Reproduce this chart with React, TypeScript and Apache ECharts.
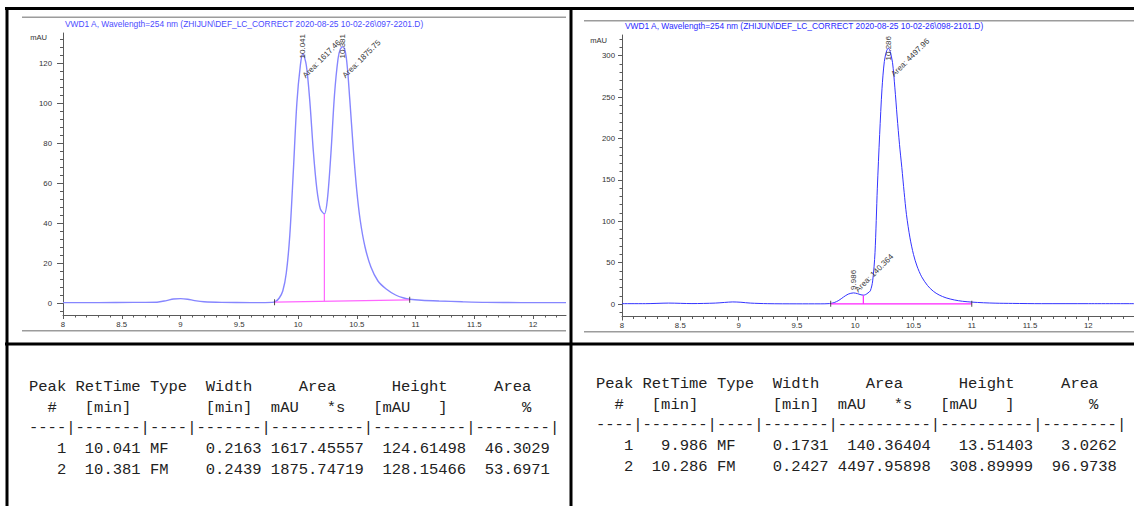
import React, { useEffect, useRef } from "react";
import * as echarts from "echarts";

const FONT = "'Liberation Sans', Arial, sans-serif";
const MONO = "'Liberation Mono', 'Courier New', monospace";

// ---------------- left run (097-2201) ----------------
const leftTitle = "VWD1 A, Wavelength=254 nm (ZHIJUN\\DEF_LC_CORRECT 2020-08-25 10-02-26\\097-2201.D)";
const leftTimes = [8.0, 8.3, 8.6, 8.8, 8.88, 8.94, 9.0, 9.06, 9.12, 9.2, 9.35, 9.6, 9.78, 9.81, 9.84, 9.87, 9.9, 9.93, 9.96, 9.99, 10.02, 10.041, 10.07, 10.1, 10.13, 10.16, 10.19, 10.224, 10.25, 10.28, 10.31, 10.34, 10.36, 10.381, 10.41, 10.44, 10.47, 10.5, 10.53, 10.57, 10.62, 10.68, 10.75, 10.83, 10.9, 10.95, 11.05, 11.2, 11.4, 11.6, 11.9, 12.28];
const leftSignal = [0.2, 0.2, 0.3, 0.4, 1.2, 2.0, 2.2, 1.9, 1.2, 0.6, 0.3, 0.2, 0.3, 0.8, 2.5, 6, 15, 34, 66, 100, 119, 124.6, 119, 101, 76, 57, 47, 44.5, 52, 75, 104, 122, 127, 128.2, 123, 102, 77, 56, 41, 28, 18, 11, 7, 4, 2.5, 1.9, 1.4, 1.0, 0.6, 0.3, 0.2, 0.2];
const leftBaseline = [[9.8, 0.4], [10.95, 1.6]];
const leftDrop = [[10.224, 1.0], [10.224, 44.5]];
const leftPeakNo = [1, 2];
const leftRetTime = [10.041, 10.381];
const leftType = ["MF", "FM"];
const leftWidth = [0.2163, 0.2439];
const leftArea = [1617.45557, 1875.74719];
const leftHeight = [124.61498, 128.15466];
const leftAreaPct = [46.3029, 53.6971];
const leftYMajor = [0, 20, 40, 60, 80, 100, 120];

// ---------------- right run (098-2101) ----------------
const rightTitle = "VWD1 A, Wavelength=254 nm (ZHIJUN\\DEF_LC_CORRECT 2020-08-25 10-02-26\\098-2101.D)";
const rightTimes = [8.0, 8.2, 8.4, 8.6, 8.8, 8.88, 8.95, 9.02, 9.1, 9.25, 9.5, 9.7, 9.78, 9.82, 9.86, 9.9, 9.94, 9.986, 10.02, 10.05, 10.07, 10.09, 10.11, 10.13, 10.15, 10.17, 10.19, 10.21, 10.23, 10.25, 10.27, 10.286, 10.3, 10.32, 10.34, 10.36, 10.38, 10.4, 10.42, 10.44, 10.47, 10.5, 10.53, 10.57, 10.62, 10.67, 10.72, 10.78, 10.85, 10.92, 11.0, 11.1, 11.2, 11.35, 11.6, 12.0, 12.4];
const rightSignal = [0.5, 0.5, 1.2, 0.6, 1.2, 2.0, 2.6, 2.2, 1.2, 0.5, 0.3, 0.3, 0.6, 1.8, 4.5, 8.5, 12, 13.5, 12.6, 11.2, 10.8, 11.5, 13.5, 16, 28, 62, 140, 205, 260, 293, 306, 309, 305, 292, 262, 226, 193, 165, 135, 108, 80, 60, 46, 33, 22.5, 15.5, 11, 7.5, 5, 3.4, 2.4, 1.6, 1.1, 0.8, 0.5, 0.5, 0.5];
const rightBaseline = [[9.79, 0.3], [11.0, 0.3]];
const rightDrop = [[10.07, 0.3], [10.07, 10.8]];
const rightPeakNo = [1, 2];
const rightRetTime = [9.986, 10.286];
const rightType = ["MF", "FM"];
const rightWidth = [0.1731, 0.2427];
const rightArea = [140.36404, 4497.95898];
const rightHeight = [13.51403, 308.89999];
const rightAreaPct = [3.0262, 96.9738];
const rightYMajor = [0, 50, 100, 150, 200, 250, 300];

const xMajor = [8, 8.5, 9, 9.5, 10, 10.5, 11, 11.5, 12];

// table header lines (fixed-width report)
const tableHeader1 = "Peak RetTime Type  Width     Area      Height     Area";
const tableHeader2 = "  #   [min]        [min]  mAU   *s   [mAU   ]        %";
const tableRule = "----|-------|----|-------|----------|----------|--------|";

// ---------------- layout ----------------
const LEFT_GRID = { left: 63, top: 33, width: 503, height: 282, xMin: 8, xMax: 12.28, yMin: -6, yMax: 135 };
const RIGHT_GRID = { left: 622, top: 35, width: 513, height: 281.5, xMin: 8, xMax: 12.4, yMin: -15, yMax: 325 };
const leftAreaOffsets = [[1, 23], [1, 30]];
const rightAreaOffsets = [[3, -2], [4, 27]];

function steps(from: number, to: number, step: number): number[] {
  const out: number[] = [];
  for (let i = 0; ; i++) {
    const v = +(from + i * step).toFixed(4);
    if (v > to + 1e-9) break;
    out.push(v);
  }
  return out;
}

function fmtRow(n: number, rt: number, type: string, w: number, area: number, h: number, pct: number) {
  return (
    String(n).padStart(4) + " " +
    rt.toFixed(3).padStart(7) + " " +
    type.padEnd(4) + " " +
    w.toFixed(4).padStart(7) + " " +
    area.toFixed(5).padStart(10) + " " +
    h.toFixed(5).padStart(10) + " " +
    pct.toFixed(4).padStart(8)
  );
}

function measure(t: string, size: number) {
  const c = document.createElement("canvas").getContext("2d");
  if (!c) return t.length * size * 0.52;
  c.font = `${size}px 'Liberation Sans'`;
  return c.measureText(t).width;
}

function axesFor(gridIndex: number, g: any, yMajor: number[], yMinor: number[], xMinor: number[], yTickLen: number, yMinorLen: number, yMargin: number) {
  const axisColor = "#5a5a5a";
  const labelStyle = { fontSize: 7.8, color: "#333", fontFamily: FONT };
  const xAxes = [
    {
      type: "value", gridIndex, min: g.xMin, max: g.xMax, position: "bottom",
      axisLine: { show: true, onZero: false, lineStyle: { color: axisColor, width: 1 } },
      axisTick: { show: true, customValues: xMajor, length: 4, lineStyle: { color: axisColor } },
      axisLabel: { show: true, customValues: xMajor, margin: 5, ...labelStyle },
      splitLine: { show: false },
    },
    {
      type: "value", gridIndex, min: g.xMin, max: g.xMax, position: "bottom",
      axisLine: { show: false, onZero: false },
      axisTick: { show: true, customValues: xMinor, length: 2.5, lineStyle: { color: axisColor } },
      axisLabel: { show: false },
      splitLine: { show: false },
    },
  ];
  const yAxes = [
    {
      type: "value", gridIndex, min: g.yMin, max: g.yMax, position: "left",
      axisLine: { show: true, onZero: false, lineStyle: { color: axisColor, width: 1 } },
      axisTick: { show: true, customValues: yMajor, length: yTickLen, lineStyle: { color: axisColor } },
      axisLabel: { show: true, customValues: yMajor, margin: yMargin, ...labelStyle },
      splitLine: { show: false },
    },
    {
      type: "value", gridIndex, min: g.yMin, max: g.yMax, position: "left",
      axisLine: { show: false, onZero: false },
      axisTick: { show: true, customValues: yMinor, length: yMinorLen, lineStyle: { color: axisColor } },
      axisLabel: { show: false },
      splitLine: { show: false },
    },
  ];
  return { xAxes, yAxes };
}

export default function App() {
  const ref = useRef<HTMLDivElement>(null);

  useEffect(() => {
    if (!ref.current) return;
    const chart = echarts.init(ref.current, null, { renderer: "svg" });

    const leftYMinor = steps(-4, 132, 4).filter((v) => !leftYMajor.includes(v));
    const rightYMinor = steps(-10, 320, 10).filter((v) => !rightYMajor.includes(v));
    const leftXMinor = steps(8.1, LEFT_GRID.xMax, 0.1).filter((v) => !xMajor.includes(v));
    const rightXMinor = steps(8.1, RIGHT_GRID.xMax, 0.1).filter((v) => !xMajor.includes(v));

    const la = axesFor(0, LEFT_GRID, leftYMajor, leftYMinor, leftXMinor, 6, 3, 11);
    const ra = axesFor(1, RIGHT_GRID, rightYMajor, rightYMinor, rightXMinor, 4, 2.5, 7);

    const pair = (xs: number[], ys: number[]) => xs.map((t, i) => [t, ys[i]]);

    const sigSeries = (xi: number, data: any, color: string, width: number) => ({
      type: "line", xAxisIndex: xi, yAxisIndex: xi, data, showSymbol: false, symbol: "none",
      smooth: 0.3, lineStyle: { color, width }, z: 2, silent: true,
    });
    const magSeries = (xi: number, data: any, color: string) => ({
      type: "line", xAxisIndex: xi, yAxisIndex: xi, data, showSymbol: false, symbol: "none",
      lineStyle: { color, width: 1.2 }, z: 3, silent: true,
    });
    const markSeries = (xi: number, data: any) => ({
      type: "scatter", xAxisIndex: xi, yAxisIndex: xi, data, symbol: "rect", symbolSize: [1, 6],
      itemStyle: { color: "#222" }, z: 4, silent: true,
    });

    chart.setOption({
      animation: false,
      backgroundColor: "#ffffff",
      grid: [
        { left: LEFT_GRID.left, top: LEFT_GRID.top, width: LEFT_GRID.width, height: LEFT_GRID.height, containLabel: false, outerBoundsMode: "none" },
        { left: RIGHT_GRID.left, top: RIGHT_GRID.top, width: RIGHT_GRID.width, height: RIGHT_GRID.height, containLabel: false, outerBoundsMode: "none" },
      ],
      xAxis: [...la.xAxes, ...ra.xAxes],
      yAxis: [...la.yAxes, ...ra.yAxes],
      series: [
        sigSeries(0, pair(leftTimes, leftSignal), "#8686ff", 1.4),
        magSeries(0, leftBaseline, "#ff66ff"),
        magSeries(0, leftDrop, "#ff66ff"),
        markSeries(0, leftBaseline),
        sigSeries(2, pair(rightTimes, rightSignal), "#3434ff", 1),
        magSeries(2, rightBaseline, "#ff22ff"),
        magSeries(2, rightDrop, "#ff22ff"),
        markSeries(2, rightBaseline),
      ],
    });

    const graphics: any[] = [];
    const line = (x1: number, y1: number, x2: number, y2: number, stroke: string, lineWidth: number) =>
      graphics.push({ type: "line", silent: true, z: 50, shape: { x1, y1, x2, y2 }, style: { stroke, lineWidth } });
    const text = (x: number, y: number, t: string, style: any, rotation = 0) =>
      graphics.push({ type: "text", silent: true, z: 60, x, y, rotation, style: { text: t, ...style } });

    // frame
    line(5, 8.5, 1134, 8.5, "#000", 3);
    line(7, 7, 7, 506, "#000", 3);
    line(571, 7, 571, 506, "#000", 3);
    line(5, 344, 1134, 344, "#000", 3);

    // panel separators (grey)
    line(22, 17.3, 566, 17.3, "#9c9c9c", 1.5);
    line(22, 330.7, 566, 330.7, "#9c9c9c", 1.5);
    line(584, 20.7, 1134, 20.7, "#9c9c9c", 1.5);
    line(584, 331.7, 1134, 331.7, "#9c9c9c", 1.5);

    // titles & unit labels
    const small = { fontFamily: FONT, fontSize: 8.4, align: "left", verticalAlign: "middle" };
    text(65, 24, leftTitle, { ...small, fill: "#4c4cff" });
    text(625, 26, rightTitle, { ...small, fill: "#2a2aff" });
    const unit = { fontFamily: FONT, fontSize: 7.6, fill: "#333", align: "right", verticalAlign: "middle" };
    text(LEFT_GRID.left - 16, LEFT_GRID.top + 4, "mAU", unit);
    text(RIGHT_GRID.left - 15, RIGHT_GRID.top + 5, "mAU", unit);

    // peak annotations
    const annot = { fontFamily: FONT, fontSize: 8, fill: "#3a3a3a", align: "left", verticalAlign: "middle" };
    const annotate = (seriesIndex: number, top: number, rts: number[], hs: number[], areas: number[], offs: number[][]) => {
      rts.forEach((rt, i) => {
        const p = chart.convertToPixel({ seriesIndex }, [rt, hs[i]]) as number[];
        const rtText = rt.toFixed(3);
        const len = measure(rtText, 8);
        const bottom = Math.max(p[1] - 3, top + len + 1);
        text(p[0], bottom, rtText, annot, Math.PI / 2);
        const areaText = "Area: " + String(Number(areas[i].toPrecision(6)));
        text(p[0] + offs[i][0], p[1] + offs[i][1], areaText, annot, Math.PI / 4);
      });
    };
    annotate(0, LEFT_GRID.top, leftRetTime, leftHeight, leftArea, leftAreaOffsets);
    annotate(4, RIGHT_GRID.top, rightRetTime, rightHeight, rightArea, rightAreaOffsets);

    // tables
    const mono = { fontFamily: MONO, fontSize: 15.5, fill: "#222", align: "left", verticalAlign: "middle" };
    const table = (x: number, y: number, nos: number[], rts: number[], types: string[], ws: number[], as: number[], hs: number[], ps: number[]) => {
      const lines = [tableHeader1, tableHeader2, tableRule, ...nos.map((n, i) => fmtRow(n, rts[i], types[i], ws[i], as[i], hs[i], ps[i]))];
      lines.forEach((l, i) => text(x, y + i * 20.7, l, mono));
    };
    table(29, 387, leftPeakNo, leftRetTime, leftType, leftWidth, leftArea, leftHeight, leftAreaPct);
    table(596, 384, rightPeakNo, rightRetTime, rightType, rightWidth, rightArea, rightHeight, rightAreaPct);

    chart.setOption({ graphic: graphics });

    return () => chart.dispose();
  }, []);

  return (
    <div
      ref={ref}
      style={{ position: "fixed", left: 0, top: 0, width: 1134, height: 506, background: "#fff" }}
    />
  );
}
